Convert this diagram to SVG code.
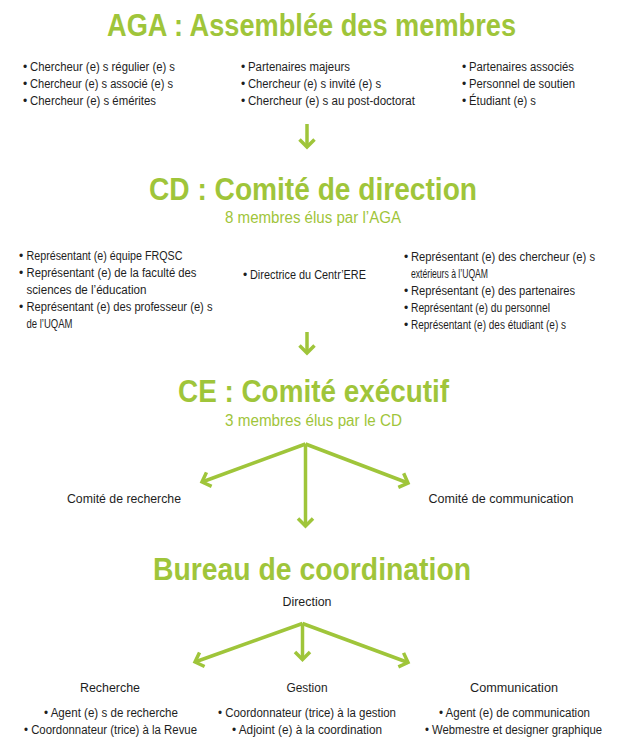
<svg xmlns="http://www.w3.org/2000/svg" width="620" height="751" viewBox="0 0 620 751">
<defs>
<style>
.t{font-family:"Liberation Sans",Arial,sans-serif;font-weight:bold;font-size:32px;fill:#9fc53a}
.s{font-family:"Liberation Sans",Arial,sans-serif;font-size:16px;fill:#9fc53a}
.b{font-family:"Liberation Sans",Arial,sans-serif;font-size:12px;fill:#1e1e1e}
.c{text-anchor:middle}
.ln{stroke:#9fc53a;stroke-width:3.5;fill:none;marker-end:url(#ah)}
</style>
<marker id="ah" markerUnits="userSpaceOnUse" orient="auto" refX="0" refY="0" markerWidth="20" markerHeight="20" viewBox="-12 -10 14 20" overflow="visible">
<path d="M-7.5,-7.5 L0,0 L-7.5,7.5" fill="none" stroke="#9fc53a" stroke-width="3.5"/>
</marker>
</defs>
<rect width="620" height="751" fill="#ffffff"/>

<g id="aga">
<text class="t" x="107" y="36" textLength="409" lengthAdjust="spacingAndGlyphs">AGA : Assemblée des membres</text>
<g class="b">
<text x="23" y="71">•</text><text x="30" y="71" textLength="145" lengthAdjust="spacingAndGlyphs">Chercheur (e) s régulier (e) s</text>
<text x="23" y="88">•</text><text x="30" y="88" textLength="143" lengthAdjust="spacingAndGlyphs">Chercheur (e) s associé (e) s</text>
<text x="23" y="105">•</text><text x="30" y="105" textLength="126" lengthAdjust="spacingAndGlyphs">Chercheur (e) s émérites</text>
<text x="241" y="71">•</text><text x="248" y="71" textLength="102" lengthAdjust="spacingAndGlyphs">Partenaires majeurs</text>
<text x="241" y="88">•</text><text x="248" y="88" textLength="133" lengthAdjust="spacingAndGlyphs">Chercheur (e) s invité (e) s</text>
<text x="241" y="105">•</text><text x="248" y="105" textLength="167" lengthAdjust="spacingAndGlyphs">Chercheur (e) s au post-doctorat</text>
<text x="462" y="71">•</text><text x="469" y="71" textLength="105" lengthAdjust="spacingAndGlyphs">Partenaires associés</text>
<text x="462" y="88">•</text><text x="469" y="88" textLength="106" lengthAdjust="spacingAndGlyphs">Personnel de soutien</text>
<text x="462" y="105">•</text><text x="469" y="105" textLength="67" lengthAdjust="spacingAndGlyphs">Étudiant (e) s</text>
</g>
</g>

<g id="cd">
<text class="t" x="149" y="200" textLength="328" lengthAdjust="spacingAndGlyphs">CD : Comité de direction</text>
<text class="s" x="225" y="223" textLength="176" lengthAdjust="spacingAndGlyphs">8 membres élus par l’AGA</text>
<g class="b">
<text x="19" y="260">•</text><text x="26.5" y="260" textLength="156" lengthAdjust="spacingAndGlyphs">Représentant (e) équipe FRQSC</text>
<text x="19" y="277">•</text><text x="26.5" y="277" textLength="170" lengthAdjust="spacingAndGlyphs">Représentant (e) de la faculté des</text>
<text x="26.5" y="294" textLength="120" lengthAdjust="spacingAndGlyphs">sciences de l’éducation</text>
<text x="19" y="311">•</text><text x="26.5" y="311" textLength="186" lengthAdjust="spacingAndGlyphs">Représentant (e) des professeur (e) s</text>
<text x="26.5" y="328" textLength="46" lengthAdjust="spacingAndGlyphs">de l’UQAM</text>
<text x="243" y="279">•</text><text x="250" y="279" textLength="116" lengthAdjust="spacingAndGlyphs">Directrice du Centr’ERE</text>
<text x="404" y="261">•</text><text x="411" y="261" textLength="184" lengthAdjust="spacingAndGlyphs">Représentant (e) des chercheur (e) s</text>
<text x="411" y="278" textLength="77" lengthAdjust="spacingAndGlyphs">extérieurs à l’UQAM</text>
<text x="404" y="295">•</text><text x="411" y="295" textLength="164" lengthAdjust="spacingAndGlyphs">Représentant (e) des partenaires</text>
<text x="404" y="312">•</text><text x="411" y="312" textLength="139" lengthAdjust="spacingAndGlyphs">Représentant (e) du personnel</text>
<text x="404" y="329">•</text><text x="411" y="329" textLength="155" lengthAdjust="spacingAndGlyphs">Représentant (e) des étudiant (e) s</text>
</g>
</g>

<g id="ce">
<text class="t" x="178" y="402" textLength="271" lengthAdjust="spacingAndGlyphs">CE : Comité exécutif</text>
<text class="s" x="225" y="426" textLength="177" lengthAdjust="spacingAndGlyphs">3 membres élus par le CD</text>
</g>

<g id="comite-recherche">
<text class="b c" x="124" y="503" textLength="114" lengthAdjust="spacingAndGlyphs">Comité de recherche</text>
</g>
<g id="comite-communication">
<text class="b c" x="501" y="503" textLength="145" lengthAdjust="spacingAndGlyphs">Comité de communication</text>
</g>

<g id="bureau">
<text class="t" x="153" y="580" textLength="318" lengthAdjust="spacingAndGlyphs">Bureau de coordination</text>
<text class="b c" x="307" y="606" textLength="49" lengthAdjust="spacingAndGlyphs">Direction</text>
</g>

<g id="recherche">
<text class="b c" x="110" y="692" textLength="60" lengthAdjust="spacingAndGlyphs">Recherche</text>
<text class="b c" x="111" y="717" textLength="134" lengthAdjust="spacingAndGlyphs">• Agent (e) s de recherche</text>
<text class="b c" x="110.5" y="734" textLength="173" lengthAdjust="spacingAndGlyphs">• Coordonnateur (trice) à la Revue</text>
</g>
<g id="gestion">
<text class="b c" x="307" y="692" textLength="41" lengthAdjust="spacingAndGlyphs">Gestion</text>
<text class="b c" x="307" y="717" textLength="178" lengthAdjust="spacingAndGlyphs">• Coordonnateur (trice) à la gestion</text>
<text class="b c" x="307" y="734" textLength="150" lengthAdjust="spacingAndGlyphs">• Adjoint (e) à la coordination</text>
</g>
<g id="communication">
<text class="b c" x="514" y="692" textLength="88" lengthAdjust="spacingAndGlyphs">Communication</text>
<text class="b c" x="514.5" y="717" textLength="151" lengthAdjust="spacingAndGlyphs">• Agent (e) de communication</text>
<text class="b c" x="513.5" y="734" textLength="177" lengthAdjust="spacingAndGlyphs">• Webmestre et designer graphique</text>
</g>

<g id="connectors">
<line class="ln" x1="307" y1="124" x2="307" y2="147"/>
<line class="ln" x1="307" y1="332" x2="307" y2="353"/>
<line class="ln" x1="305.5" y1="444" x2="305.5" y2="526"/>
<line class="ln" x1="305.5" y1="444" x2="202" y2="482"/>
<line class="ln" x1="305.5" y1="444" x2="408" y2="483"/>
<line class="ln" x1="302.5" y1="623.5" x2="302.5" y2="659.5"/>
<line class="ln" x1="302.5" y1="623.5" x2="195" y2="662"/>
<line class="ln" x1="302.5" y1="623.5" x2="408" y2="662.5"/>
</g>
</svg>
